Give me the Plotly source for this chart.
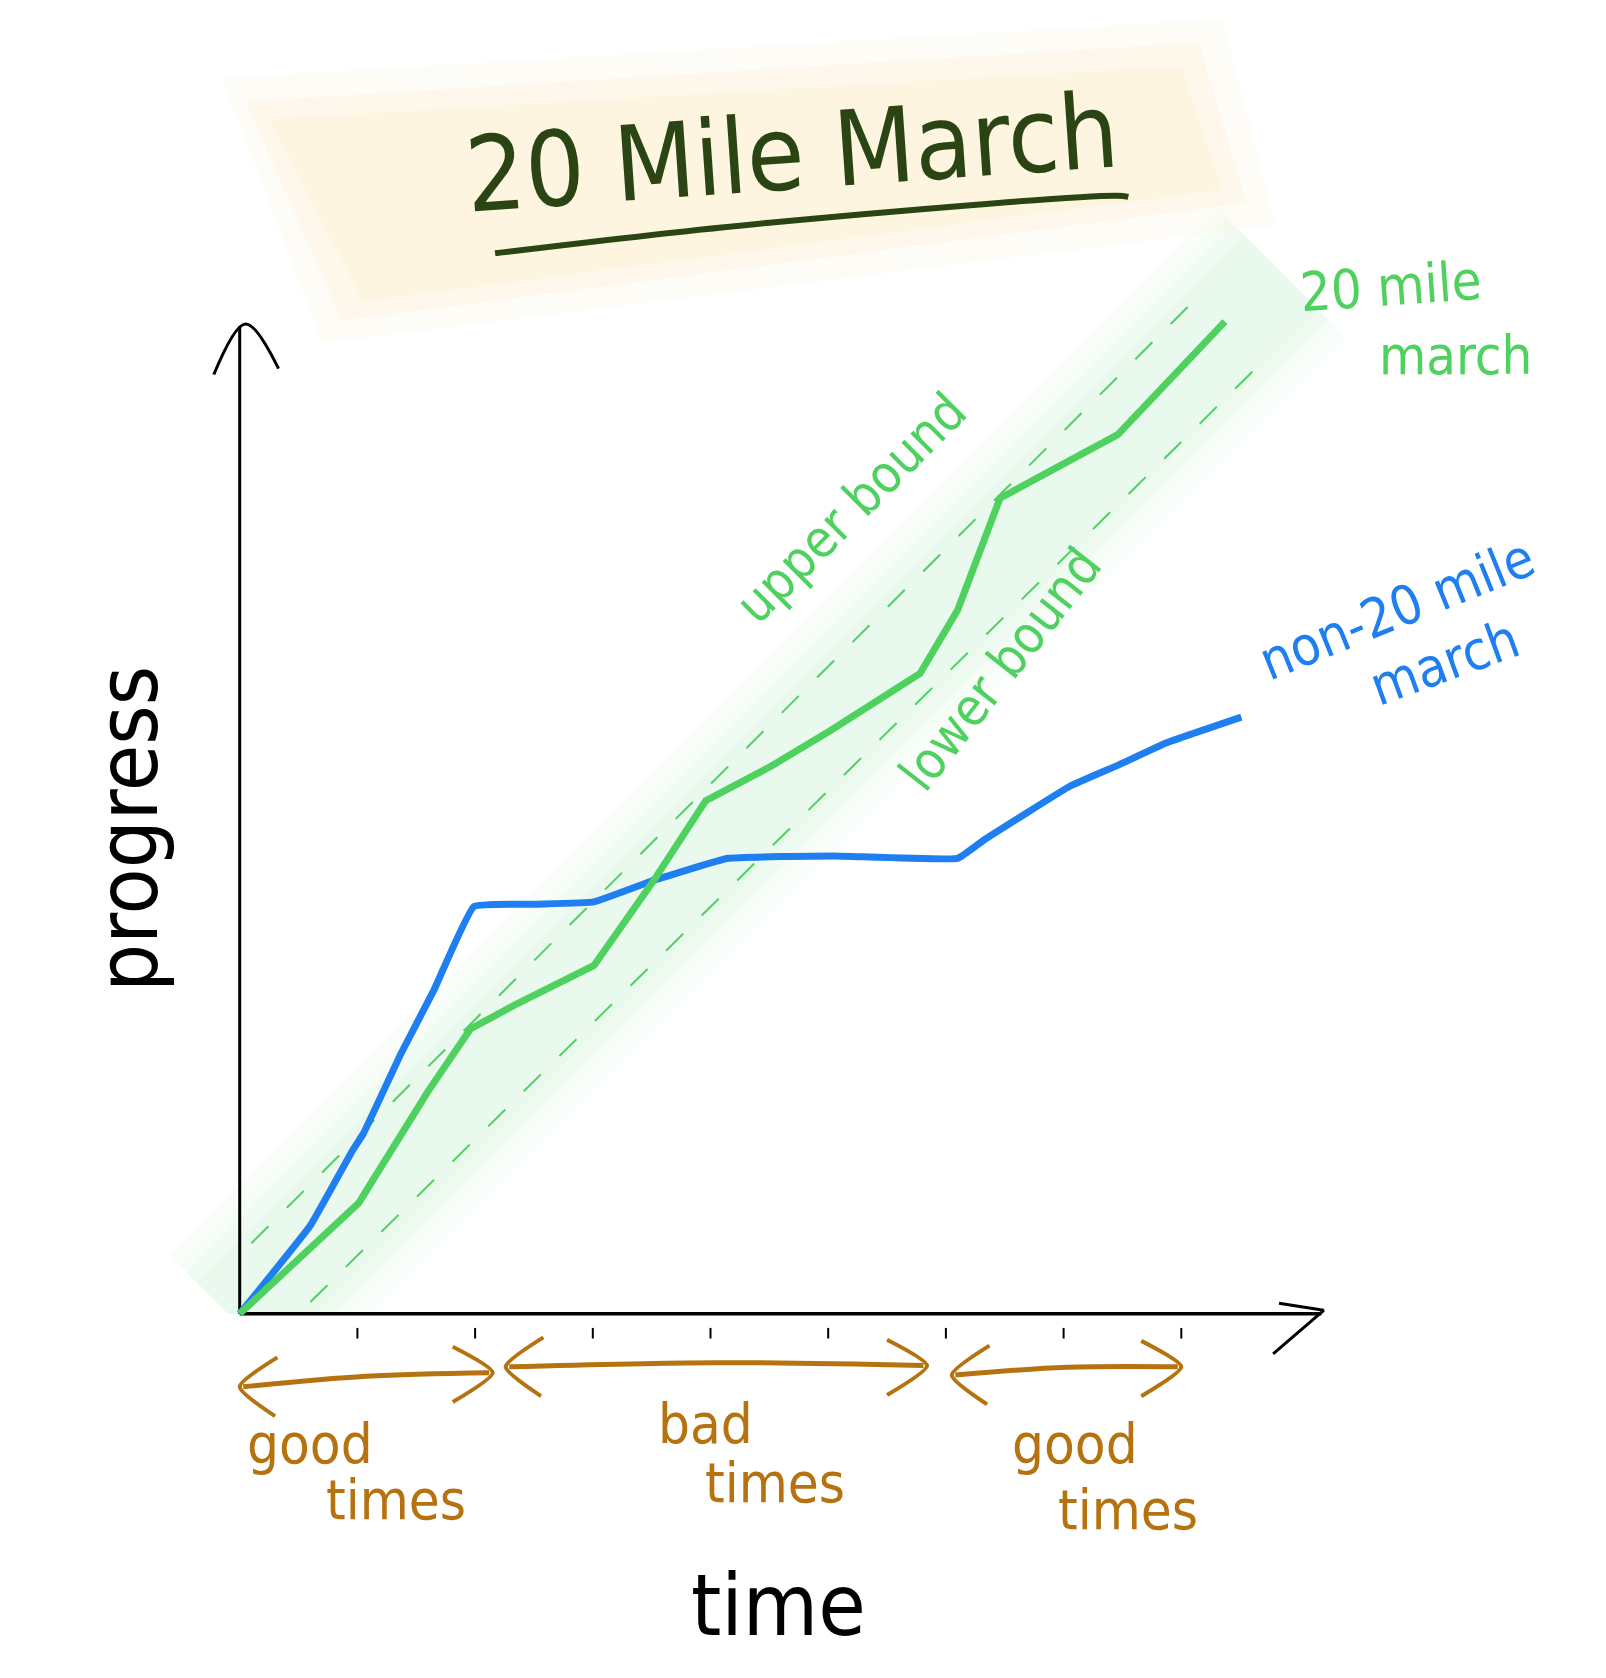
import plotly.graph_objects as go

# ---------------- data (chart units: 1 unit = one time tick) ----------------
march_x = [0, 1.01, 1.6, 1.96, 2.33, 3.01, 3.51, 3.96, 4.51, 5.01, 5.78, 6.1, 6.46, 7.46, 8.37]
march_y = [0, 0.94, 1.89, 2.42, 2.62, 2.96, 3.67, 4.36, 4.65, 4.95, 5.44, 5.98, 6.93, 7.47, 8.43]

non_march_x = [0, 0.6, 0.96, 1.05, 1.37, 1.65, 1.99, 2.51, 3.01, 3.51, 4.15, 5.05, 6.1, 6.33, 7.05, 7.46, 7.87, 8.51]
non_march_y = [0, 0.75, 1.39, 1.53, 2.21, 2.75, 3.46, 3.48, 3.5, 3.68, 3.87, 3.89, 3.87, 4.03, 4.48, 4.66, 4.85, 5.07]

upper_bound_x = [0.1, 8.1]
upper_bound_y = [0.6, 8.6]
lower_bound_x = [0.6, 8.65]
lower_bound_y = [0.1, 8.05]

time_ticks = [1, 2, 3, 4, 5, 6, 7, 8]

period_word1 = ["good", "bad", "good"]
period_word2 = ["times", "times", "times"]
period_start = [0.0, 2.26, 6.05]
period_end = [2.15, 5.84, 8.0]

title_text = "20 Mile March"
x_label = "time"
y_label = "progress"

# ---------------- styling ----------------
GREEN = "#4fd160"
BLUE = "#1f7ff0"
BROWN = "#b5720f"
DARK = "#2a4513"
HAND = "DejaVu Sans Condensed, Liberation Sans Narrow, Noto Sans, sans-serif"

U = 117.7                 # px per unit
OX, OY = 239.7, 1313.8    # origin in px
W, H = 1606, 1678
x_rng = [-OX / U, (W - OX) / U]
y_rng = [-(H - OY) / U, OY / U]

fig = go.Figure()

# soft green band around the march line (cut at the time axis)
band_t0, band_t1 = -0.05, 8.85
for h, alpha in [(0.55, 0.07), (0.47, 0.08), (0.4, 0.09), (0.32, 0.09)]:
    x_cross = band_t0 - h + (band_t0 + h)
    bx = [band_t0 - h, band_t1 - h, band_t1 + h, 2 * h, x_cross, band_t0 - h]
    by = [band_t0 + h, band_t1 + h, band_t1 - h, 0, 0, band_t0 + h]
    fig.add_trace(go.Scatter(x=bx, y=by, fill="toself", mode="none",
                             fillcolor=f"rgba(190,238,195,{alpha})",
                             hoverinfo="skip", showlegend=False))

# beige title patch
patch_layers = [
    ([-0.15, 8.35, 8.8, 0.7], [10.5, 11.0, 9.25, 8.25], 0.18),
    ([0.05, 8.15, 8.55, 0.87], [10.3, 10.8, 9.44, 8.44], 0.3),
    ([0.25, 8.0, 8.35, 1.05], [10.15, 10.6, 9.55, 8.6], 0.4),
]
for px, py, alpha in patch_layers:
    fig.add_trace(go.Scatter(x=px + [px[0]], y=py + [py[0]], fill="toself", mode="none",
                             fillcolor=f"rgba(252,240,208,{alpha})",
                             hoverinfo="skip", showlegend=False))

# title underline
fig.add_trace(go.Scatter(x=[2.17, 4.5, 7.45, 7.55], y=[9.01, 9.27, 9.5, 9.49], mode="lines",
                         line=dict(color=DARK, width=6, shape="spline"),
                         hoverinfo="skip", showlegend=False))

# bounds (dashed)
for bx, by in [(upper_bound_x, upper_bound_y), (lower_bound_x, lower_bound_y)]:
    fig.add_trace(go.Scatter(x=bx, y=by, mode="lines",
                             line=dict(color=GREEN, width=2, dash="24px,26px"),
                             hoverinfo="skip", showlegend=False))

# axes
ax_top = 8.39
ax_right = 9.19
fig.add_trace(go.Scatter(x=[0, 0], y=[0, ax_top], mode="lines",
                         line=dict(color="black", width=3), hoverinfo="skip", showlegend=False))
fig.add_trace(go.Scatter(x=[0, ax_right], y=[0, 0], mode="lines",
                         line=dict(color="black", width=3.5), hoverinfo="skip", showlegend=False))
fig.add_trace(go.Scatter(x=[-0.22, 0.05, 0.33], y=[7.98, ax_top + 0.02, 8.03], mode="lines",
                         line=dict(color="black", width=3, shape="spline"),
                         hoverinfo="skip", showlegend=False))
fig.add_trace(go.Scatter(x=[8.83, ax_right + 0.02, 8.78], y=[0.09, 0.03, -0.34], mode="lines",
                         line=dict(color="black", width=3), hoverinfo="skip", showlegend=False))

# tick marks
tx, ty = [], []
for t in time_ticks:
    tx += [t, t, None]
    ty += [-0.12, -0.21, None]
fig.add_trace(go.Scatter(x=tx, y=ty, mode="lines", line=dict(color="black", width=2),
                         hoverinfo="skip", showlegend=False))

# series
fig.add_trace(go.Scatter(x=non_march_x, y=non_march_y, mode="lines",
                         line=dict(color=BLUE, width=7, shape="spline", smoothing=0.3),
                         name="non-20 mile march", showlegend=False))
fig.add_trace(go.Scatter(x=march_x, y=march_y, mode="lines",
                         line=dict(color=GREEN, width=7),
                         name="20 mile march", showlegend=False))

# period arrows
arrow_y = [(-0.62, -0.5), (-0.45, -0.44), (-0.52, -0.45)]
for s, e, (ys, ye) in zip(period_start, period_end, arrow_y):
    fig.add_trace(go.Scatter(x=[s + 0.03, (s + e) / 2, e - 0.03], y=[ys, (ys + ye) / 2 + 0.03, ye],
                             mode="lines", line=dict(color=BROWN, width=5, shape="spline"),
                             hoverinfo="skip", showlegend=False))
    fig.add_trace(go.Scatter(x=[s + 0.32, s, s + 0.3], y=[ys + 0.25, ys, ys - 0.25], mode="lines",
                             line=dict(color=BROWN, width=4, shape="spline", smoothing=0.6),
                             hoverinfo="skip", showlegend=False))
    fig.add_trace(go.Scatter(x=[e - 0.34, e, e - 0.34], y=[ye + 0.22, ye, ye - 0.25], mode="lines",
                             line=dict(color=BROWN, width=4, shape="spline", smoothing=0.6),
                             hoverinfo="skip", showlegend=False))

# ---------------- text ----------------
ann = []
def add(text, x, y, size, color, angle=0):
    ann.append(dict(text=text, x=x, y=y, xref="x", yref="y", showarrow=False,
                    textangle=angle, font=dict(family=HAND, size=size, color=color),
                    xanchor="center", yanchor="middle"))

add(title_text, 4.69, 9.86, 104, DARK, -4)
add("upper bound", 5.19, 6.85, 52, GREEN, -45)
add("lower bound", 6.46, 5.48, 52, GREEN, -52)
add("20 mile", 9.78, 8.73, 54, GREEN, -4)
add("march", 10.33, 8.14, 54, GREEN, 0)
add("non-20 mile", 9.83, 5.98, 54, BLUE, -22)
add("march", 10.24, 5.53, 54, BLUE, -20)
add(y_label, -0.95, 4.12, 84, "black", -90)
add(x_label, 4.58, -2.47, 86, "black", 0)

w1_pos = [(0.6, -1.1), (3.96, -0.93), (7.1, -1.1)]
w2_pos = [(1.33, -1.58), (4.55, -1.43), (7.55, -1.66)]
for w1, w2, p1, p2 in zip(period_word1, period_word2, w1_pos, w2_pos):
    add(w1, p1[0], p1[1], 56, BROWN, 0)
    add(w2, p2[0], p2[1], 56, BROWN, 0)

fig.update_layout(
    width=W, height=H,
    margin=dict(l=0, r=0, t=0, b=0),
    paper_bgcolor="white", plot_bgcolor="white",
    xaxis=dict(range=x_rng, visible=False, fixedrange=True),
    yaxis=dict(range=y_rng, visible=False, fixedrange=True),
    annotations=ann,
    showlegend=False,
)

fig.write_html("out.html", config={"displayModeBar": False},
               post_script="document.body.style.margin='0';document.body.style.overflow='hidden';")
